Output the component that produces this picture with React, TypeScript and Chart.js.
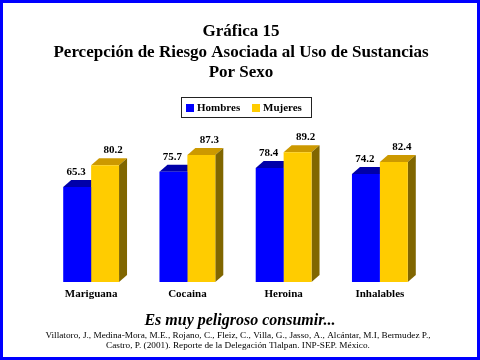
import React, { useEffect, useRef } from 'react';
import { Chart, registerables } from 'chart.js';

Chart.register(...registerables);

const categories = ['Mariguana', 'Cocaina', 'Heroina', 'Inhalables'];
const hombres = [65.3, 75.7, 78.4, 74.2];
const mujeres = [80.2, 87.3, 89.2, 82.4];
const seriesNames = ['Hombres', 'Mujeres'];
const titleLines = ['Gráfica 15', 'Percepción de Riesgo Asociada al Uso de Sustancias', 'Por Sexo'];
const tagline = 'Es muy peligroso consumir...';
const citation = [
  'Villatoro, J., Medina-Mora, M.E., Rojano, C., Fleiz, C., Villa, G., Jasso, A., Alcántar, M.I, Bermudez P.,',
  'Castro, P. (2001). Reporte de la Delegación Tlalpan. INP-SEP. México.',
];

const FONT = '"Liberation Serif", "Times New Roman", serif';
const frontColors = ['#0000ff', '#ffcc00'];
const topColors = ['#0000a8', '#cc9900'];
const sideColors = ['#00007a', '#806600'];
const labelOffsets = [-1, 8];
const DX = 8;
const DY = 7;

const decorPlugin = {
  id: 'decor',
  beforeDraw(chart: any) {
    const ctx = chart.ctx;
    ctx.save();
    ctx.fillStyle = '#ffffff';
    ctx.fillRect(0, 0, chart.width, chart.height);
    ctx.restore();
  },
  beforeDatasetsDraw(chart: any) {
    const ctx = chart.ctx;
    ctx.save();
    chart.data.datasets.forEach((ds: any, di: number) => {
      const meta = chart.getDatasetMeta(di);
      meta.data.forEach((el: any) => {
        const { x, y, base, width } = el.getProps(['x', 'y', 'base', 'width'], true);
        const l = x - width / 2;
        const r = x + width / 2;
        ctx.fillStyle = topColors[di];
        ctx.beginPath();
        ctx.moveTo(l, y);
        ctx.lineTo(l + DX, y - DY);
        ctx.lineTo(r + DX, y - DY);
        ctx.lineTo(r, y);
        ctx.closePath();
        ctx.fill();
        ctx.fillStyle = sideColors[di];
        ctx.beginPath();
        ctx.moveTo(r, y);
        ctx.lineTo(r + DX, y - DY);
        ctx.lineTo(r + DX, base - DY);
        ctx.lineTo(r, base);
        ctx.closePath();
        ctx.fill();
      });
    });
    ctx.restore();
  },
  afterDatasetsDraw(chart: any) {
    const ctx = chart.ctx;
    ctx.save();
    ctx.fillStyle = '#000';
    ctx.font = `bold 11px ${FONT}`;
    ctx.textAlign = 'center';
    ctx.textBaseline = 'middle';
    chart.data.datasets.forEach((ds: any, di: number) => {
      const meta = chart.getDatasetMeta(di);
      meta.data.forEach((el: any, i: number) => {
        const { x, y } = el.getProps(['x', 'y'], true);
        ctx.fillText(ds.data[i].toFixed(1), x + labelOffsets[di], y - DY - 8);
      });
    });
    // category labels along the x scale
    const xs = chart.scales.x;
    const bottom = chart.chartArea.bottom;
    chart.data.labels.forEach((lab: string, i: number) => {
      ctx.fillText(lab, xs.getPixelForValue(i), bottom + 12);
    });
    ctx.restore();
  },
  afterDraw(chart: any) {
    const ctx = chart.ctx;
    const W = chart.width;
    ctx.save();
    ctx.fillStyle = '#000';
    ctx.textAlign = 'center';
    ctx.textBaseline = 'middle';
    ctx.font = `bold 17px ${FONT}`;
    titleLines.forEach((t, i) => ctx.fillText(t, 241, 32 + i * 20.5));

    // legend
    const lx = 181, ly = 97, lw = 130, lh = 20;
    ctx.strokeStyle = '#222';
    ctx.lineWidth = 1;
    ctx.strokeRect(lx + 0.5, ly + 0.5, lw, lh);
    ctx.font = `bold 11px ${FONT}`;
    ctx.textAlign = 'left';
    const itemX = [186, 252];
    chart.data.datasets.forEach((ds: any, di: number) => {
      ctx.fillStyle = ds.backgroundColor;
      ctx.fillRect(itemX[di], 104, 8, 8);
      ctx.fillStyle = '#000';
      ctx.fillText(ds.label, itemX[di] + 11, 108.5);
    });

    // tagline & citation
    ctx.textAlign = 'center';
    ctx.font = `italic bold 16px ${FONT}`;
    ctx.fillText(tagline, 240, 321);
    ctx.font = `9.25px ${FONT}`;
    citation.forEach((t, i) => ctx.fillText(t, 238, 336 + i * 10));

    // frame
    ctx.strokeStyle = '#0000ff';
    ctx.lineWidth = 3;
    ctx.strokeRect(1.5, 1.5, W - 3, chart.height - 3);
    ctx.restore();
  },
};

export default function App() {
  const ref = useRef<HTMLCanvasElement | null>(null);
  useEffect(() => {
    if (!ref.current) return;
    const chart = new Chart(ref.current, {
      type: 'bar',
      data: {
        labels: categories,
        datasets: [
          { label: seriesNames[0], data: hombres, backgroundColor: frontColors[0], borderWidth: 0 },
          { label: seriesNames[1], data: mujeres, backgroundColor: frontColors[1], borderWidth: 0 },
        ],
      },
      options: {
        responsive: false,
        animation: false,
        devicePixelRatio: 1,
        categoryPercentage: 0.58,
        barPercentage: 1.0,
        layout: { padding: { left: 43, right: 52, top: 136.5, bottom: 78 } },
        plugins: {
          legend: { display: false },
          title: { display: false },
          tooltip: { enabled: false },
        },
        scales: {
          x: { display: false },
          y: { display: false, min: 0, max: 100 },
        },
      },
      plugins: [decorPlugin],
    } as any);
    return () => chart.destroy();
  }, []);
  return (
    <div style={{ position: 'fixed', left: 0, top: 0, width: 480, height: 360 }}>
      <canvas ref={ref} width={480} height={360} style={{ display: 'block', width: 480, height: 360 }} />
    </div>
  );
}
